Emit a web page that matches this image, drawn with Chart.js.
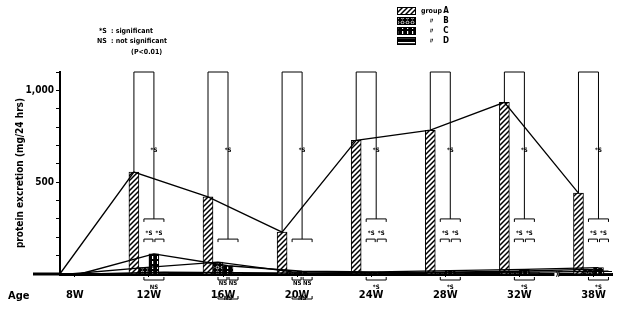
<!DOCTYPE html>
<html>
<head>
<meta charset="utf-8">
<script src="https://cdn.jsdelivr.net/npm/chart.js@4.4.1/dist/chart.umd.min.js"></script>
<style>
  body { margin: 0; background: #fff; }
</style>
</head>
<body>
<canvas id="myChart" width="619" height="332"></canvas>
<script>
var ages = ['8W', '12W', '16W', '20W', '24W', '28W', '32W', '38W'];
var groupA = [0, 555, 420, 228, 728, 783, 935, 440];
var groupB = [0, 35, 65, 12, 8, 10, 15, 25];
var groupC = [0, 110, 45, 15, 12, 18, 25, 35];
var groupD = [0, 10, 8, 5, 5, 8, 10, 15];
var groupLetters = ['A', 'B', 'C', 'D'];
var yLabels = [500, 1000];
// significance: A vs the others, pairwise among B-D (upper), B-D below the axis
var sigA = ['', '*S', '*S', '*S', '*S', '*S', '*S', '*S'];
var sigUpper = [null, ['*S', '*S'], null, null, ['*S', '*S'], ['*S', '*S'], ['*S', '*S'], ['*S', '*S']];
var sigLower = [null, ['NS'], ['NS', 'NS', 'NS'], ['NS', 'NS', 'NS'], ['*S'], ['*S'], ['*S'], ['*S']];

var FONT = '"DejaVu Sans Condensed", "DejaVu Sans", sans-serif';

function makePattern(kind) {
    var c = document.createElement('canvas');
    c.width = 5; c.height = 5;
    var g = c.getContext('2d');
    g.fillStyle = kind === 'hatch' ? '#fff' : '#000';
    g.fillRect(0, 0, 5, 5);
    g.strokeStyle = kind === 'hatch' ? '#000' : '#fff';
    g.fillStyle = '#fff';
    g.lineWidth = 1.5;
    g.beginPath();
    if (kind === 'hatch') {
        g.moveTo(-1, 6); g.lineTo(6, -1);
        g.moveTo(-3, 3); g.lineTo(3, -3);
        g.moveTo(2, 8); g.lineTo(8, 2);
        g.stroke();
    } else if (kind === 'dots') {
        g.lineWidth = 0.8;
        g.arc(2.5, 2.5, 1.4, 0, Math.PI * 2);
        g.stroke();
    } else if (kind === 'vlines') {
        g.fillRect(2, 1, 1.2, 3);
    } else {
        g.fillRect(0, 2, 5, 1.2);
    }
    return g.createPattern(c, 'repeat');
}

var patterns = [makePattern('hatch'), makePattern('dots'), makePattern('vlines'), makePattern('hlines')];

function toPoints(values) {
    return values.map(function (v, i) { return { x: i, y: v }; });
}

var extras = {
    id: 'extras',
    afterDatasetsDraw: function (chart) {
        var ctx = chart.ctx;
        var xs = chart.scales.x, ys = chart.scales.y;
        var area = chart.chartArea;
        var bars = [0, 1, 2, 3].map(function (k) { return chart.getDatasetMeta(k).data; });
        var base = ys.getPixelForValue(0);
        ctx.save();
        ctx.strokeStyle = '#000';
        ctx.fillStyle = '#000';

        // baseline runs a bit left of the y axis, with a break mark
        ctx.lineWidth = 3;
        ctx.beginPath();
        ctx.moveTo(area.left - 27, base);
        ctx.lineTo(area.left, base);
        ctx.stroke();
        var bx = xs.getPixelForValue(6.5);
        ctx.fillStyle = '#fff';
        ctx.fillRect(bx - 2, base - 3, 4, 6);
        ctx.lineWidth = 1;
        ctx.beginPath();
        ctx.arc(bx - 4, base, 5, -0.6, 0.6);
        ctx.moveTo(bx + 2 + 5 * Math.cos(-0.6), base + 5 * Math.sin(-0.6));
        ctx.arc(bx - 2, base, 5, -0.6, 0.6);
        ctx.stroke();
        ctx.fillStyle = '#000';

        // lines joining the bar tops of each group
        ctx.lineWidth = 1.3;
        bars.forEach(function (list) {
            ctx.beginPath();
            list.forEach(function (b, i) {
                if (i === 0) ctx.moveTo(b.x, b.y); else ctx.lineTo(b.x, b.y);
            });
            ctx.stroke();
        });

        // significance brackets
        ctx.lineWidth = 1;
        ctx.font = 'bold 6px ' + FONT;
        ctx.textAlign = 'center';
        ctx.textBaseline = 'middle';
        for (var i = 1; i < ages.length; i++) {
            var xa = bars[0][i].x, xb = bars[1][i].x, xc = bars[2][i].x, xd = bars[3][i].x;
            var yEnd = ys.getPixelForValue(sigUpper[i] ? 300 : 190);
            ctx.beginPath();
            ctx.moveTo(xa, bars[0][i].y);
            ctx.lineTo(xa, area.top);
            ctx.lineTo(xc, area.top);
            ctx.lineTo(xc, yEnd);
            ctx.moveTo(xb, yEnd + 3);
            ctx.lineTo(xb, yEnd);
            ctx.lineTo(xd, yEnd);
            ctx.lineTo(xd, yEnd + 3);
            ctx.stroke();
            ctx.fillText(sigA[i], xc, ys.getPixelForValue(675));

            if (sigUpper[i]) {
                var yp = ys.getPixelForValue(190);
                ctx.beginPath();
                ctx.moveTo(xb, yp + 3); ctx.lineTo(xb, yp); ctx.lineTo(xc - 1, yp); ctx.lineTo(xc - 1, yp + 3);
                ctx.moveTo(xc + 1, yp + 3); ctx.lineTo(xc + 1, yp); ctx.lineTo(xd, yp); ctx.lineTo(xd, yp + 3);
                ctx.stroke();
                ctx.fillText(sigUpper[i][0], (xb + xc) / 2, yp - 6);
                ctx.fillText(sigUpper[i][1], (xc + xd) / 2, yp - 6);
            }

            var low = sigLower[i];
            var yl = base + 6;
            ctx.beginPath();
            if (low.length === 1) {
                ctx.moveTo(xb, yl - 3); ctx.lineTo(xb, yl); ctx.lineTo(xd, yl); ctx.lineTo(xd, yl - 3);
                ctx.stroke();
                ctx.fillText(low[0], (xb + xd) / 2, yl + 7);
            } else {
                ctx.moveTo(xb, yl - 3); ctx.lineTo(xb, yl); ctx.lineTo(xc - 1, yl); ctx.lineTo(xc - 1, yl - 3);
                ctx.moveTo(xc + 1, yl - 3); ctx.lineTo(xc + 1, yl); ctx.lineTo(xd, yl); ctx.lineTo(xd, yl - 3);
                var yl2 = base + 25;
                ctx.moveTo(xb, yl2 - 3); ctx.lineTo(xb, yl2); ctx.lineTo(xd, yl2); ctx.lineTo(xd, yl2 - 3);
                ctx.stroke();
                ctx.fillText(low[0], (xb + xc) / 2, yl + 3);
                ctx.fillText(low[1], (xc + xd) / 2, yl + 3);
                ctx.fillText(low[2], (xb + xd) / 2, yl2 - 1);
            }
        }

        // legend
        ctx.font = 'bold 7px ' + FONT;
        ctx.textBaseline = 'middle';
        chart.data.datasets.forEach(function (ds, k) {
            var ty = 11 + k * 10;
            ctx.fillStyle = ds.backgroundColor;
            ctx.fillRect(397, ty - 4, 19, 8);
            ctx.strokeRect(397.5, ty - 3.5, 18, 7);
            ctx.fillStyle = '#000';
            ctx.textAlign = 'left';
            ctx.fillText(k === 0 ? 'group' : '', 421, ty);
            ctx.textAlign = 'center';
            if (k > 0) ctx.fillText('〃', 431, ty);
            ctx.font = 'bold 8px ' + FONT;
            ctx.fillText(groupLetters[k], 446, ty);
            ctx.font = 'bold 7px ' + FONT;
        });

        // notes
        ctx.textAlign = 'left';
        ctx.fillText('*S', 99, 31);
        ctx.fillText(': significant', 111, 31);
        ctx.fillText('NS', 97, 41);
        ctx.fillText(': not significant', 111, 41);
        ctx.fillText('(P<0.01)', 131, 52);

        // "Age" caption in front of the x labels
        ctx.font = 'bold 11px ' + FONT;
        ctx.fillText('Age', 8, ys.bottom + 22);
        ctx.restore();
    }
};

var ctx = document.getElementById('myChart');
var myChart = new Chart(ctx, {
    type: 'bar',
    data: {
        datasets: [groupA, groupB, groupC, groupD].map(function (values, k) {
            return {
                label: 'group ' + groupLetters[k],
                data: toPoints(values),
                backgroundColor: patterns[k],
                borderColor: '#000',
                borderWidth: 1,
                barThickness: 10
            };
        })
    },
    options: {
        responsive: false,
        animation: false,
        layout: { padding: { top: 72, right: 7, left: 0, bottom: 0 } },
        plugins: {
            legend: { display: false },
            tooltip: { enabled: false }
        },
        scales: {
            x: {
                type: 'linear',
                min: -0.2,
                max: 7.25,
                offset: false,
                grid: { offset: false, drawOnChartArea: false, tickLength: 3, color: '#000' },
                border: { color: '#000', width: 3 },
                ticks: {
                    stepSize: 1,
                    includeBounds: false,
                    autoSkip: false,
                    maxRotation: 0,
                    padding: 12,
                    color: '#000',
                    font: { family: FONT, size: 11, weight: 'bold' },
                    callback: function (v) { return ages[v] || ''; }
                },
                afterFit: function (scale) { scale.height = 58; }
            },
            y: {
                min: 0,
                max: 1100,
                grid: { drawOnChartArea: false, tickLength: 4, color: '#000' },
                border: { color: '#000', width: 2 },
                ticks: {
                    stepSize: 100,
                    padding: 2,
                    color: '#000',
                    font: { family: FONT, size: 10, weight: 'bold' },
                    callback: function (v) { return yLabels.indexOf(v) >= 0 ? v.toLocaleString('en-US') : ''; }
                },
                title: {
                    display: true,
                    text: 'protein excretion (mg/24 hrs)',
                    color: '#000',
                    font: { family: FONT, size: 10, weight: 'bold' },
                    padding: { top: 14, bottom: 0 }
                },
                afterFit: function (scale) { scale.width = 60; }
            }
        }
    },
    plugins: [extras]
});
</script>
</body>
</html>
